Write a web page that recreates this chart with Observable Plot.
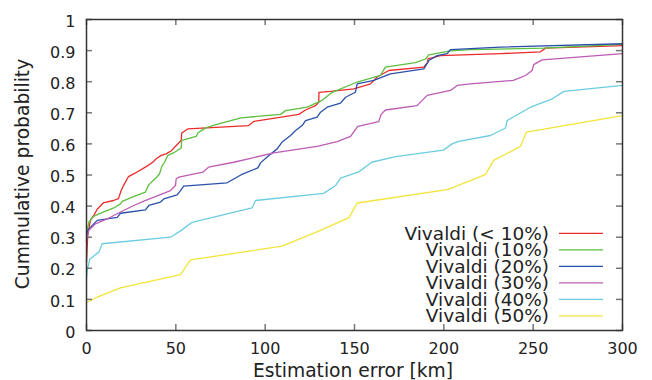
<!DOCTYPE html>
<html>
<head>
<meta charset="utf-8">
<script src="https://cdn.jsdelivr.net/npm/d3@7"></script>
<script src="https://cdn.jsdelivr.net/npm/@observablehq/plot@0.6"></script>
<style>
  html, body { margin: 0; padding: 0; background: #fff; }
</style>
</head>
<body>
<div id="chart"></div>
<script>
// ---- Data (estimation error in km, cumulative probability) ----
const seriesNames = ["Vivaldi (< 10%)", "Vivaldi (10%)", "Vivaldi (20%)", "Vivaldi (30%)", "Vivaldi (40%)", "Vivaldi (50%)"];
const seriesColors = ["#ec2b2b", "#5cbf3f", "#2a50aa", "#bd5cb5", "#6ccde0", "#f2e438"];

const vivaldiLt10 = [[0,0.22],[0.73,0.31],[2.2,0.354],[4.1,0.37],[6.0,0.39],[9.3,0.41],[15.1,0.418],[17.9,0.424],[19.4,0.45],[20.7,0.466],[23.5,0.495],[26.9,0.505],[33.4,0.527],[37.1,0.541],[39.0,0.552],[41.8,0.563],[44.6,0.568],[47.7,0.579],[50.2,0.595],[53.0,0.611],[53.3,0.635],[56.7,0.648],[90.8,0.659],[93.6,0.672],[118.8,0.695],[122.6,0.709],[128.2,0.723],[130.0,0.734],[130.1,0.766],[136.6,0.769],[149.6,0.777],[159.0,0.793],[162.7,0.815],[169.2,0.836],[188.8,0.847],[191.0,0.863],[191.1,0.873],[198.1,0.884],[231.7,0.890],[254.1,0.896],[256.9,0.908],[300,0.916]];
const vivaldi10 = [[0,0.31],[1.3,0.348],[3.2,0.364],[6.9,0.375],[15.3,0.394],[19.0,0.407],[20.0,0.415],[25.6,0.429],[33.0,0.445],[34.9,0.469],[39.0,0.491],[40.9,0.504],[42.1,0.527],[43.7,0.541],[45.5,0.563],[49.3,0.573],[53.0,0.587],[53.3,0.611],[61.4,0.624],[62.3,0.635],[65.1,0.646],[67.9,0.654],[75.4,0.667],[86.6,0.684],[108.6,0.695],[111.4,0.707],[123.5,0.718],[131.9,0.740],[137.5,0.766],[151.5,0.799],[164.5,0.820],[167.3,0.847],[184.1,0.861],[189.7,0.873],[191.6,0.886],[203.7,0.899],[214.9,0.903],[255.8,0.908],[300,0.920]];
const vivaldi20 = [[0,0.29],[0.73,0.322],[3.2,0.338],[6.0,0.354],[17.2,0.364],[19.0,0.377],[33.0,0.388],[34.9,0.402],[41.4,0.413],[43.3,0.423],[50.7,0.436],[52.6,0.450],[54.4,0.464],[78.7,0.475],[86.6,0.501],[95.9,0.523],[97.4,0.539],[101.1,0.558],[106.7,0.584],[109.5,0.606],[114.2,0.627],[117.0,0.643],[120.7,0.659],[122.6,0.675],[129.1,0.686],[131.0,0.702],[134.7,0.718],[142.2,0.731],[145.0,0.750],[150.5,0.766],[151.5,0.793],[160.8,0.804],[170.1,0.825],[188.8,0.841],[191.6,0.868],[196.3,0.884],[201.9,0.890],[203.7,0.903],[231.7,0.911],[300,0.922]];
const vivaldi30 = [[0,0.29],[1.3,0.322],[5.0,0.343],[13.4,0.364],[19.0,0.381],[26.5,0.402],[32.1,0.416],[41.4,0.437],[47.0,0.450],[49.8,0.466],[50.2,0.488],[51.7,0.493],[65.1,0.509],[68.3,0.525],[82.4,0.541],[104.8,0.571],[129.1,0.592],[140.3,0.607],[147.8,0.624],[151.8,0.656],[163.6,0.672],[164.9,0.695],[167.3,0.709],[185.0,0.723],[190.7,0.756],[203.7,0.772],[207.5,0.788],[214.9,0.793],[238.9,0.804],[245.7,0.820],[249.4,0.836],[250.3,0.855],[255.0,0.870],[300,0.890]];
const vivaldi40 = [[0,0.165],[0.4,0.193],[1.9,0.230],[6.9,0.252],[8.8,0.279],[47.0,0.300],[53.0,0.322],[59.1,0.348],[78.7,0.375],[92.7,0.394],[94.6,0.418],[132.7,0.441],[139.4,0.466],[142.2,0.490],[152.4,0.510],[158.0,0.534],[159.5,0.541],[173.0,0.559],[199.8,0.580],[204.6,0.600],[208.3,0.608],[226.1,0.627],[234.5,0.651],[235.4,0.675],[248.5,0.718],[260.7,0.745],[267.2,0.769],[300,0.788]];
const vivaldi50 = [[0,0.09],[6.0,0.107],[19.0,0.137],[52.6,0.180],[58.2,0.227],[109.5,0.271],[131.0,0.322],[146.9,0.363],[151.5,0.410],[201.9,0.453],[214.9,0.482],[223.3,0.502],[227.9,0.547],[242.9,0.592],[246.2,0.638],[300,0.691]];

const seriesData = [vivaldiLt10, vivaldi10, vivaldi20, vivaldi30, vivaldi40, vivaldi50];

const xTicks = [0, 50, 100, 150, 200, 250, 300];
const yTicks = [0, 0.1, 0.2, 0.3, 0.4, 0.5, 0.6, 0.7, 0.8, 0.9, 1];
const yTickLabels = ["0", "0.1", "0.2", "0.3", "0.4", "0.5", "0.6", "0.7", "0.8", "0.9", "1"];

// ---- Layout ----
const W = 652, H = 380;
const mL = 86, mR = 30, mT = 19, mB = 50;
const innerW = W - mL - mR, innerH = H - mT - mB;
const tickLen = 6;
const font = "DejaVu Sans";

const rows = [];
seriesData.forEach((arr, i) => arr.forEach(([x, y]) => rows.push({series: seriesNames[i], x, y})));

const chart = Plot.plot({
  width: W,
  height: H,
  marginLeft: mL,
  marginRight: mR,
  marginTop: mT,
  marginBottom: mB,
  style: {fontFamily: font, fontSize: "16px", color: "#222", background: "#fff"},
  x: {domain: [0, 300]},
  y: {domain: [0, 1]},
  color: {domain: seriesNames, range: seriesColors},
  marks: [
    ...seriesNames.map(name => Plot.line(rows.filter(r => r.series === name), {x: "x", y: "y", stroke: "series", strokeWidth: 1.3})),
    // inward ticks (bottom/top, left/right)
    Plot.tickX(xTicks, {x: d => d, stroke: "#777", strokeWidth: 1.5, insetTop: innerH - tickLen}),
    Plot.tickX(xTicks, {x: d => d, stroke: "#777", strokeWidth: 1.5, insetBottom: innerH - tickLen}),
    Plot.tickY(yTicks, {y: d => d, stroke: "#777", strokeWidth: 1.5, insetRight: innerW - tickLen}),
    Plot.tickY(yTicks, {y: d => d, stroke: "#777", strokeWidth: 1.5, insetLeft: innerW - tickLen}),
    Plot.frame({stroke: "#333", strokeWidth: 1.5}),
    Plot.axisX(xTicks, {tickSize: 0, tickPadding: 12, label: null, tickFormat: d => String(d)}),
    Plot.axisY(yTicks, {tickSize: 0, tickPadding: 11, label: null, dy: 2, tickFormat: (d, i) => yTickLabels[i]})
  ]
});

const svg = d3.select(chart);
// axis titles
svg.append("text")
  .attr("transform", "translate(29,174) rotate(-90)")
  .attr("text-anchor", "middle")
  .attr("font-family", font)
  .attr("font-size", "18.7px")
  .attr("fill", "#222")
  .text("Cummulative probability");
svg.append("text")
  .attr("x", 353).attr("y", 377)
  .attr("text-anchor", "middle")
  .attr("font-family", font)
  .attr("font-size", "18.7px")
  .attr("fill", "#222")
  .text("Estimation error [km]");

// legend
const lg = svg.append("g");
seriesNames.forEach((name, i) => {
  const cy = 233.3 + i * 16.5;
  lg.append("text")
    .attr("x", 549).attr("y", cy)
    .attr("dy", "0.36em")
    .attr("text-anchor", "end")
    .attr("font-family", font)
    .attr("font-size", "18.5px")
    .attr("fill", "#222")
    .text(name);
  lg.append("line")
    .attr("x1", 559).attr("x2", 603)
    .attr("y1", cy).attr("y2", cy)
    .attr("stroke", seriesColors[i])
    .attr("stroke-width", 1.3);
});

document.getElementById("chart").appendChild(chart);
</script>
</body>
</html>
